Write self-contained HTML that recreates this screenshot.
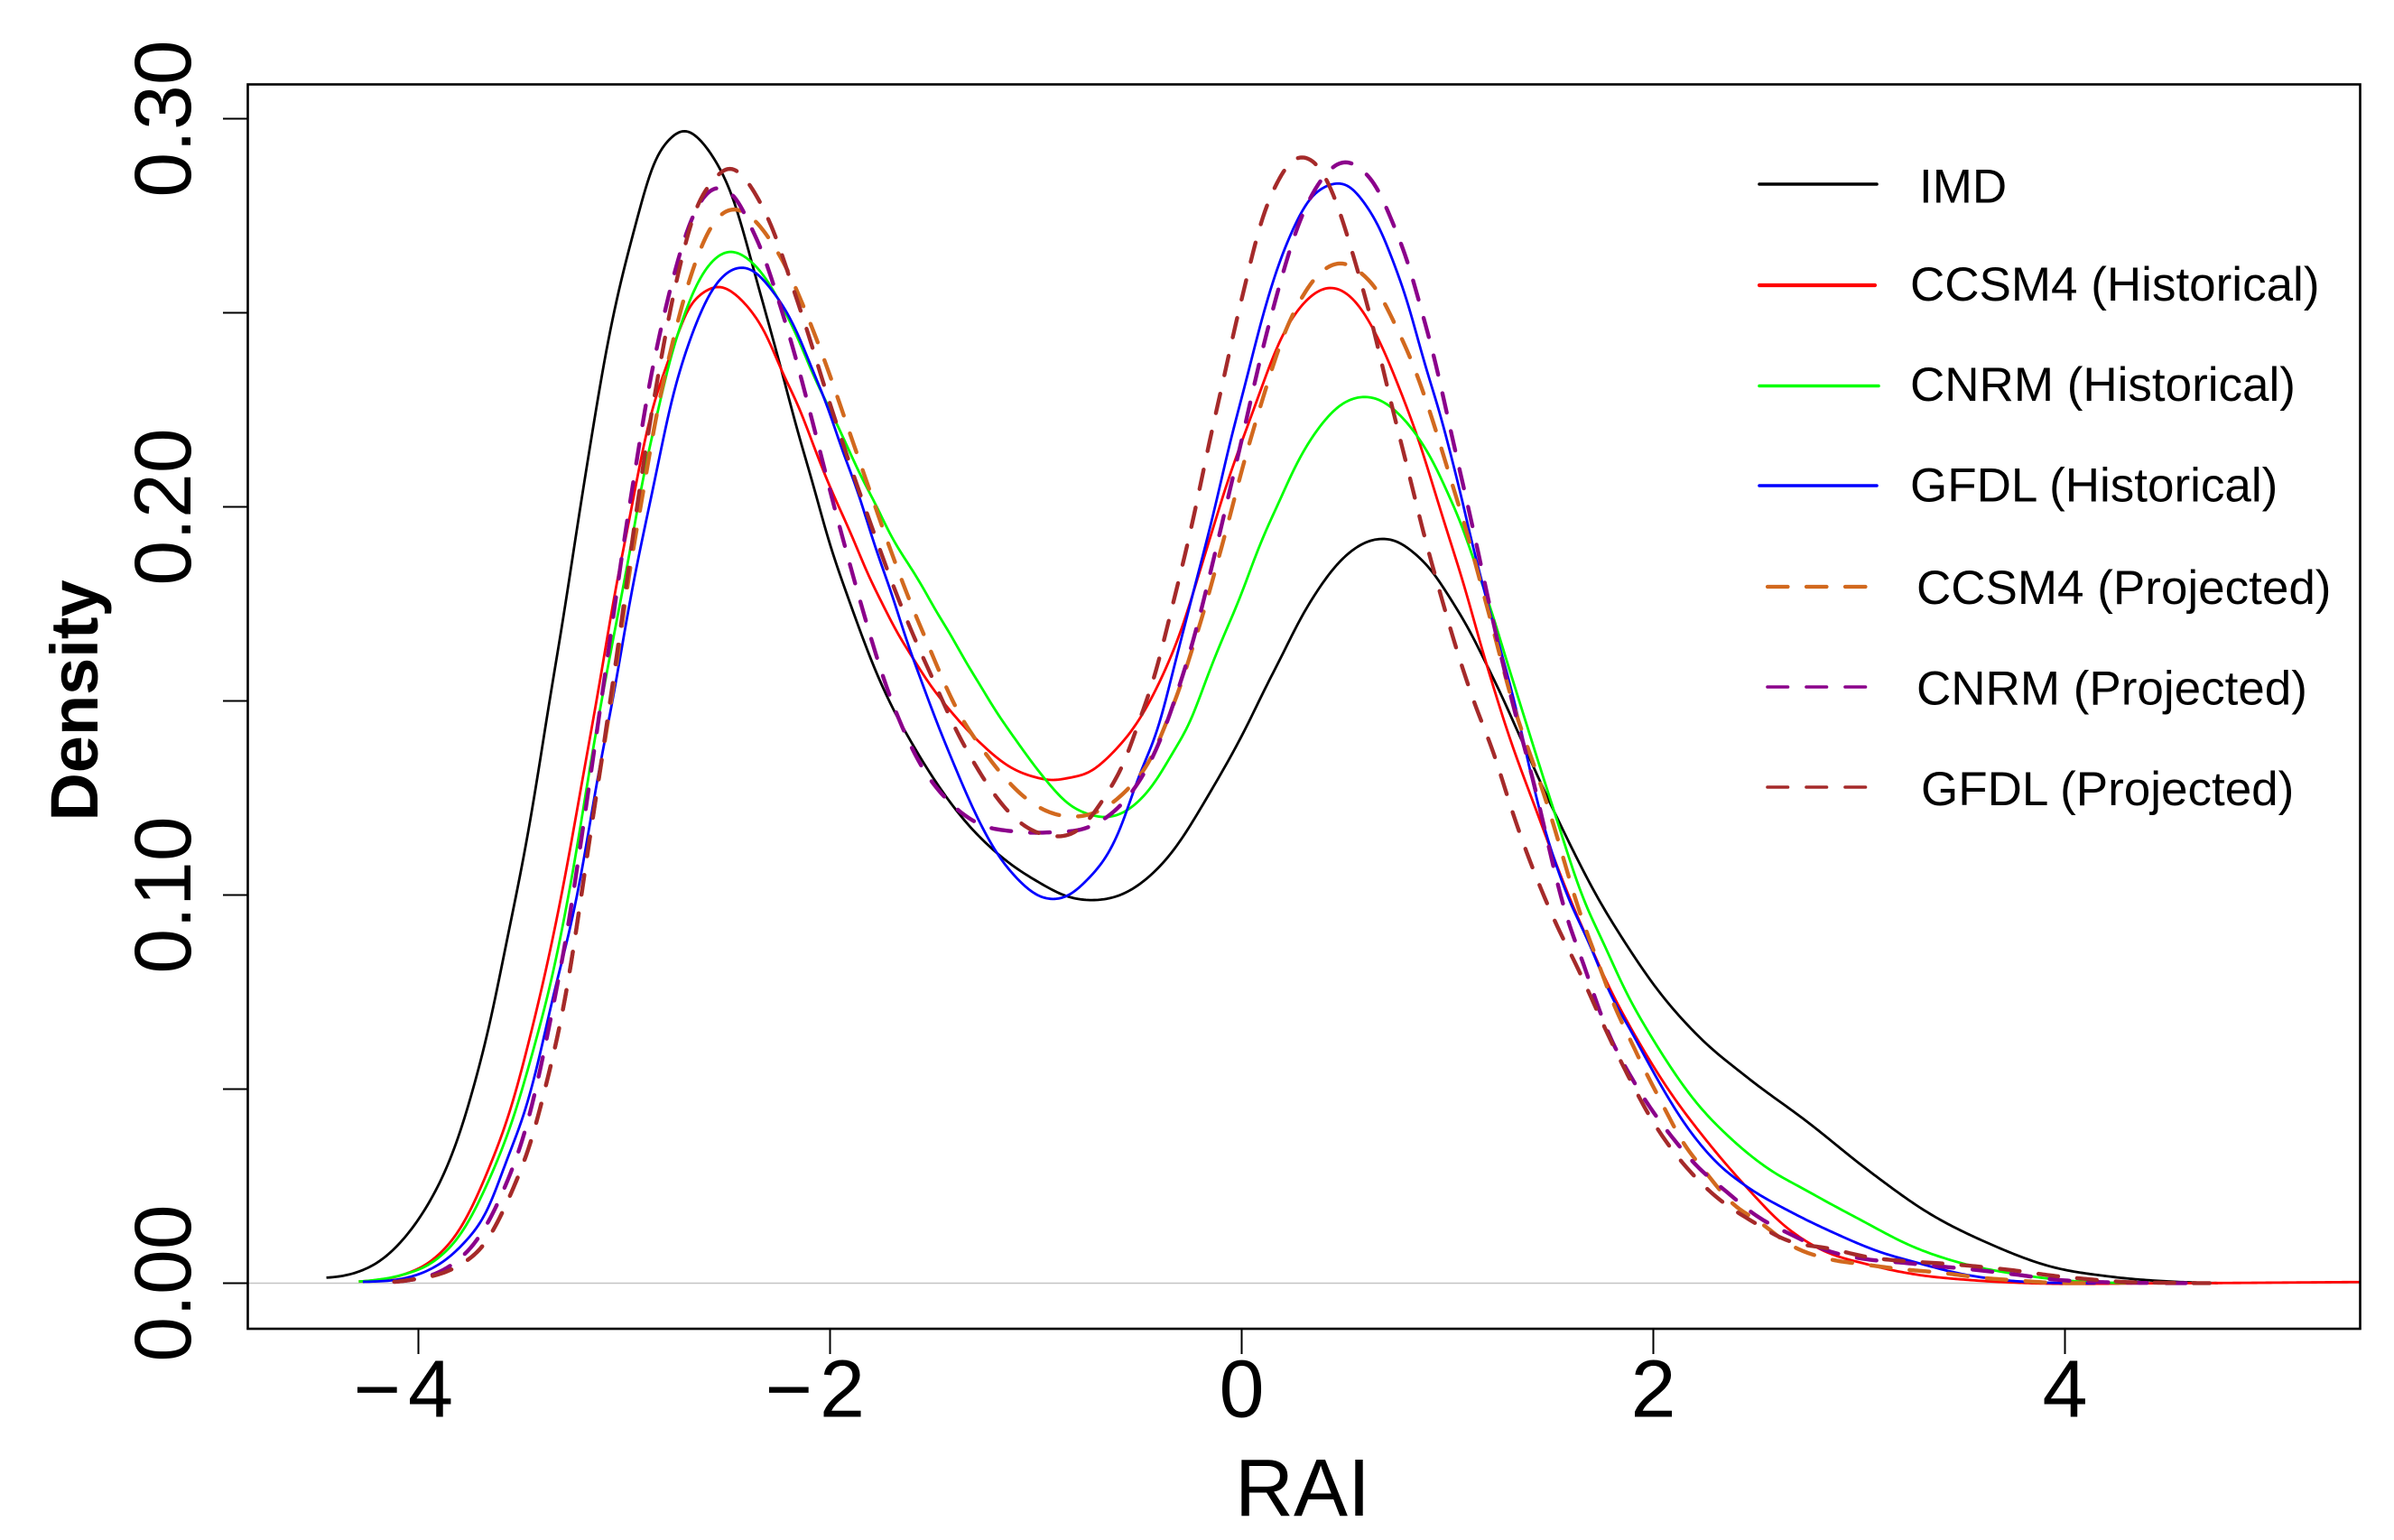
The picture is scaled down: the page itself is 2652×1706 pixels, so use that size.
<!DOCTYPE html>
<html lang="en">
<head>
<meta charset="utf-8">
<title>RAI density chart</title>
<style>
html,body{margin:0;padding:0;background:#fff;width:2652px;height:1706px;overflow:hidden}
svg{display:block}
text{font-family:"Liberation Sans",sans-serif;fill:#000}
</style>
</head>
<body>
<svg id="chart" xmlns="http://www.w3.org/2000/svg" width="2652" height="1706" viewBox="0 0 2652 1706">
  <rect x="0" y="0" width="2652" height="1706" fill="#fff"/>
  <defs><clipPath id="plot-clip"><rect x="275" y="94" width="2339" height="1378"/></clipPath></defs>
  <line x1="275" y1="1421.5" x2="2614" y2="1421.5" stroke="#c4c4c4" stroke-width="1.6"/>
  <g id="series"></g>
  <g id="axes"></g>
  <rect x="274.5" y="93.5" width="2340" height="1378.5" fill="none" stroke="#000" stroke-width="2.6"/>
  <text x="1443" y="1679" font-size="90" text-anchor="middle">RAI</text>
  <text transform="translate(108 776) rotate(-90)" font-size="74" font-weight="700" text-anchor="middle">Density</text>
  <g font-size="53">
    <g><line x1="1949" y1="204" x2="2079" y2="204" stroke="#000" stroke-width="3.6" stroke-linecap="round"/><text x="2126" y="224.5">IMD</text></g>
    <g><line x1="1949" y1="316" x2="2077" y2="316" stroke="#f00" stroke-width="4.2" stroke-linecap="round"/><text x="2116" y="333">CCSM4 (Historical)</text></g>
    <g><line x1="1949" y1="427.5" x2="2081" y2="427.5" stroke="#0f0" stroke-width="3.6" stroke-linecap="round"/><text x="2116" y="444">CNRM (Historical)</text></g>
    <g><line x1="1949" y1="538" x2="2079" y2="538" stroke="#00f" stroke-width="3.6" stroke-linecap="round"/><text x="2116" y="555.5">GFDL (Historical)</text></g>
    <g><line x1="1958" y1="650" x2="2067" y2="650" stroke="#D2691E" stroke-width="4.2" stroke-linecap="round" stroke-dasharray="22.5 20.5"/><text x="2123" y="669">CCSM4 (Projected)</text></g>
    <g><line x1="1958" y1="761" x2="2067" y2="761" stroke="#8B008B" stroke-width="3.6" stroke-linecap="round" stroke-dasharray="22.5 20.5"/><text x="2123" y="780.5">CNRM (Projected)</text></g>
    <g><line x1="1958" y1="872" x2="2067" y2="872" stroke="#A52A2A" stroke-width="3.6" stroke-linecap="round" stroke-dasharray="22.5 20.5"/><text x="2128" y="892">GFDL (Projected)</text></g>
  </g>
</svg>
<script>
const xTickValues = [-4, -2, 0, 2, 4];
const xTickLabels = ["\u22124", "\u22122", "0", "2", "4"];
const yTickValues = [0, 0.05, 0.10, 0.15, 0.20, 0.25, 0.30];
const yTickLabels = ["0.00", "", "0.10", "", "0.20", "", "0.30"];

const imdX = [-4.447,-4.3,-4.186,-4.076,-3.963,-3.879,-3.795,-3.725,-3.655,-3.57,-3.489,-3.423,-3.357,-3.299,-3.24,-3.167,-3.094,-3.021,-2.945,-2.86,-2.787,-2.708,-2.626,-2.553,-2.466,-2.378,-2.305,-2.232,-2.159,-2.086,-2.005,-1.925,-1.852,-1.778,-1.705,-1.603,-1.354,-1.164,-.989,-.844,-.734,-.55,-.361,-.142,.034,.107,.195,.283,.371,.458,.546,.634,.685,.736,.839,.926,1.014,1.102,1.19,1.262,1.321,1.52,1.744,1.866,2.015,2.222,2.457,2.75,3.046,3.34,3.636,3.93,4.22,4.52,4.75];
const imdY = [.0013,.0028,.0058,.0112,.0195,.0279,.0394,.052,.0665,.0885,.1097,.1298,.1523,.1701,.191,.2151,.2383,.2569,.2724,.288,.2941,.2969,.2941,.2887,.2787,.2624,.2485,.2345,.2197,.2066,.191,.1786,.1678,.1577,.1492,.1392,.1197,.1097,.1034,.0996,.0987,.101,.1096,.1275,.1445,.1525,.1616,.1709,.1786,.1848,.1891,.1914,.1917,.1914,.188,.1833,.1763,.1686,.1593,.1515,.1445,.1213,.098,.0875,.076,.0635,.053,.0415,.029,.018,.0101,.0043,.0017,.0004,0];

const ccsmHistX = [-4.29,-4.075,-3.935,-3.795,-3.655,-3.543,-3.458,-3.39,-3.305,-3.27,-3.211,-3.153,-3.094,-3.036,-2.995,-2.948,-2.89,-2.817,-2.758,-2.7,-2.626,-2.539,-2.45,-2.378,-2.305,-2.232,-2.159,-2.086,-2.012,-1.94,-1.881,-1.822,-1.749,-1.676,-1.603,-1.53,-1.442,-1.252,-1.135,-.989,-.916,-.844,-.74,-.625,-.507,-.375,-.287,-.214,-.141,-.068,.005,.064,.19,.33,.428,.554,.664,.777,.868,.941,1.014,1.087,1.16,1.218,1.277,1.435,1.603,1.69,1.778,1.927,2.073,2.25,2.457,2.633,2.81,3.045,3.28,3.515,3.78,4.5,5.43];
const ccsmHistY = [.0003,.0022,.0059,.0143,.03,.0465,.0635,.0785,.1,.1097,.1275,.1445,.1624,.181,.191,.2042,.2197,.2329,.2414,.25,.2546,.2567,.2542,.25,.2438,.2345,.2267,.2166,.2066,.198,.191,.1833,.1755,.1678,.1616,.1554,.1492,.1383,.1333,.1302,.1296,.1302,.1317,.1368,.1445,.1577,.1693,.1817,.1941,.2066,.2174,.2259,.2432,.2539,.2564,.2527,.2432,.229,.2159,.2034,.191,.1787,.1647,.1546,.1445,.1213,.098,.0875,.0771,.0624,.0499,.0373,.0245,.015,.0088,.0048,.0022,.0009,.0001,0,.0003];

const cnrmHistX = [-4.29,-4.075,-3.935,-3.795,-3.655,-3.543,-3.43,-3.348,-3.278,-3.237,-3.167,-3.102,-3.036,-2.963,-2.904,-2.846,-2.787,-2.714,-2.67,-2.597,-2.487,-2.392,-2.319,-2.232,-2.159,-2.086,-1.998,-1.925,-1.852,-1.778,-1.705,-1.633,-1.559,-1.486,-1.413,-1.34,-1.267,-1.216,-1.107,-.96,-.844,-.726,-.653,-.55,-.433,-.318,-.251,-.185,-.126,-.068,-.01,.049,.107,.181,.254,.327,.4,.473,.546,.604,.678,.736,.853,.941,1.014,1.072,1.131,1.204,1.262,1.335,1.52,1.668,1.75,1.868,2.015,2.19,2.397,2.545,2.75,2.986,3.28,3.487,3.78,4.075,4.37];
const cnrmHistY = [.0003,.0022,.0053,.0127,.0269,.042,.0625,.0795,.098,.1097,.1329,.1523,.1709,.191,.2089,.222,.236,.2484,.2546,.2616,.2657,.2635,.2593,.2515,.2438,.2345,.2248,.2166,.2081,.2007,.1926,.1864,.1802,.1732,.167,.16,.1538,.1492,.1407,.1302,.1236,.1206,.1201,.1221,.1283,.1383,.1445,.1538,.1618,.1692,.1763,.1848,.1926,.2011,.2097,.2166,.222,.2259,.2279,.2283,.2273,.2252,.2182,.2104,.2019,.1949,.1856,.1748,.1647,.1523,.1213,.098,.0886,.075,.0614,.0478,.0363,.03,.0237,.0169,.009,.0053,.0022,.0004,0];

const gfdlHistX = [-4.27,-4.075,-3.935,-3.795,-3.655,-3.57,-3.487,-3.417,-3.348,-3.25,-3.194,-3.124,-3.05,-2.992,-2.915,-2.846,-2.773,-2.714,-2.641,-2.568,-2.495,-2.429,-2.363,-2.29,-2.217,-2.144,-2.086,-2.012,-1.94,-1.866,-1.808,-1.749,-1.691,-1.633,-1.573,-1.515,-1.398,-1.296,-1.195,-1.091,-.989,-.916,-.844,-.74,-.653,-.581,-.506,-.397,-.331,-.273,-.214,-.156,-.097,-.054,-.01,.107,.18,.252,.327,.4,.466,.531,.603,.678,.735,.795,.853,.91,.955,1.014,1.072,1.116,1.16,1.204,1.262,1.321,1.45,1.597,1.69,1.778,1.897,2.015,2.162,2.31,2.457,2.663,2.868,3.104,3.28,3.487,3.722,3.93,4.15];
const gfdlHistY = [.0003,.0012,.0038,.0095,.02,.032,.0436,.0572,.0735,.0945,.1097,.1321,.1515,.1701,.191,.2081,.2267,.2376,.2484,.2562,.2604,.2616,.2604,.2562,.2507,.243,.2352,.2259,.2143,.2042,.1941,.1848,.1763,.1662,.1577,.1492,.1337,.1213,.1113,.1043,.0999,.099,.0999,.1046,.1104,.1183,.1299,.1445,.1585,.1701,.1825,.1941,.2073,.2174,.2259,.25,.2624,.2717,.279,.2822,.2833,.2822,.2776,.2709,.2631,.2546,.2438,.2329,.2259,.2135,.2019,.191,.1825,.1732,.1624,.1507,.1213,.098,.0875,.076,.0645,.053,.0404,.031,.0248,.0185,.0132,.008,.0053,.0025,.0007,.0001,0];

const ccsmProjX = [-4.117,-4.075,-3.879,-3.795,-3.66,-3.572,-3.502,-3.436,-3.39,-3.342,-3.305,-3.27,-3.241,-3.213,-3.14,-3.08,-3.02,-2.975,-2.933,-2.904,-2.875,-2.839,-2.799,-2.755,-2.707,-2.648,-2.568,-2.466,-2.379,-2.29,-2.195,-2.122,-2.052,-1.986,-1.925,-1.862,-1.8,-1.738,-1.673,-1.607,-1.534,-1.461,-1.37,-1.274,-1.157,-1.02,-.85,-.668,-.537,-.441,-.361,-.287,-.232,-.173,-.126,-.072,-.027,.024,.078,.137,.195,.268,.371,.415,.51,.581,.663,.751,.831,.897,.958,1.011,1.068,1.121,1.17,1.221,1.323,1.393,1.477,1.66,1.735,1.807,1.882,1.956,2.044,2.132,2.25,2.383,2.515,2.678,2.839,3.03,3.207,3.398,3.575,3.766,3.943,4.13];
const ccsmProjY = [.0002,.0006,.0027,.0048,.0116,.0206,.0294,.0394,.0494,.0593,.0687,.0781,.0886,.098,.1245,.1445,.1648,.1848,.1949,.2046,.2147,.2248,.2345,.2444,.2542,.2638,.2729,.2766,.2744,.2686,.2597,.2507,.2413,.2317,.2222,.2126,.2031,.1936,.1842,.175,.1659,.1566,.1465,.1387,.1306,.1238,.1203,.1224,.1283,.1352,.1453,.1554,.1651,.1748,.1845,.1943,.204,.2139,.2236,.2337,.243,.2515,.2597,.2616,.2625,.2601,.2554,.2462,.2369,.2271,.2173,.2077,.1982,.1883,.1785,.1687,.1483,.1376,.1246,.0928,.0823,.0718,.0635,.0551,.0462,.0373,.0289,.0206,.0158,.0095,.0064,.0048,.0036,.0027,.0015,.0007,.0001,0];

const cnrmProjX = [-4.117,-3.907,-3.837,-3.71,-3.62,-3.557,-3.492,-3.445,-3.403,-3.36,-3.325,-3.286,-3.264,-3.204,-3.178,-3.148,-3.124,-3.097,-3.068,-3.042,-3.018,-2.988,-2.958,-2.926,-2.901,-2.863,-2.824,-2.78,-2.731,-2.67,-2.598,-2.546,-2.502,-2.436,-2.402,-2.338,-2.278,-2.22,-2.166,-2.119,-2.071,-2.023,-1.976,-1.925,-1.876,-1.822,-1.768,-1.708,-1.64,-1.552,-1.435,-1.282,-1.107,-.916,-.74,-.581,-.471,-.39,-.327,-.268,-.214,-.17,-.124,-.08,-.036,.01,.05,.093,.14,.192,.246,.318,.415,.466,.553,.619,.678,.713,.751,.787,.817,.844,.866,.893,.919,.941,.963,.985,1.014,1.058,1.099,1.141,1.182,1.221,1.265,1.309,1.406,1.588,1.662,1.72,1.794,1.882,1.979,2.089,2.206,2.353,2.5,2.663,2.839,3.045,3.207,3.398,3.59,3.766,3.957,4.164,4.34,4.6];
const cnrmProjY = [.0002,.0027,.0048,.0116,.02,.0279,.0373,.0467,.0562,.0677,.0771,.0875,.0949,.116,.1259,.1359,.1457,.1558,.1657,.1755,.1855,.1957,.2056,.2155,.2253,.2352,.2453,.2552,.2649,.2744,.2806,.2822,.2813,.2779,.2736,.267,.2576,.248,.2383,.2288,.219,.209,.1992,.1895,.1798,.1701,.1604,.1511,.1422,.1329,.1248,.1185,.1164,.1162,.1176,.1236,.1317,.1407,.1501,.1598,.1697,.1793,.1893,.1992,.2093,.2192,.229,.2387,.2485,.2585,.2682,.2779,.286,.2883,.288,.2848,.2802,.2755,.2709,.2659,.2616,.2562,.2515,.2469,.2422,.2372,.2322,.2271,.2197,.2099,.2002,.1904,.1802,.1705,.1606,.1509,.1317,.0928,.0823,.0729,.063,.0541,.0457,.0378,.0305,.0237,.0174,.0127,.0085,.0061,.0053,.0043,.0033,.0022,.0009,.0003,.0001,0];

const gfdlProjX = [-4.117,-4.075,-3.879,-3.795,-3.66,-3.572,-3.502,-3.436,-3.39,-3.342,-3.305,-3.27,-3.241,-3.213,-3.168,-3.135,-3.106,-3.084,-3.055,-3.025,-2.999,-2.98,-2.952,-2.922,-2.897,-2.865,-2.831,-2.799,-2.762,-2.717,-2.67,-2.576,-2.495,-2.436,-2.402,-2.335,-2.254,-2.195,-2.134,-2.075,-2.02,-1.961,-1.903,-1.84,-1.776,-1.71,-1.64,-1.564,-1.486,-1.406,-1.318,-1.217,-1.099,-.932,-.8,-.653,-.559,-.492,-.433,-.385,-.341,-.292,-.248,-.207,-.17,-.131,-.082,-.046,0,.044,.093,.165,.246,.296,.34,.428,.488,.546,.597,.647,.691,.739,.783,.831,.875,.926,.977,1.029,1.087,1.148,1.226,1.281,1.544,1.632,1.713,1.794,1.882,1.965,2.065,2.177,2.309,2.485,2.647,2.868,3.045,3.22,3.398,3.575,3.752,3.93,4.12,4.296,4.487,4.71];
const gfdlProjY = [.0002,.0006,.0027,.0048,.0116,.0206,.0294,.0394,.0494,.0593,.0687,.0781,.0886,.098,.1155,.1254,.1355,.1453,.1552,.1651,.1752,.185,.1949,.2048,.2149,.2248,.2346,.2445,.2545,.2643,.2741,.2833,.2872,.2858,.2837,.2779,.2682,.2586,.2492,.2393,.2297,.2203,.2108,.2013,.1917,.1821,.1726,.1631,.154,.1445,.1357,.1271,.1197,.1153,.1166,.1264,.1357,.1461,.1545,.1641,.1738,.1839,.194,.2038,.2135,.2232,.2337,.2438,.2531,.2631,.2732,.2825,.2892,.2899,.2892,.2825,.2741,.2639,.2546,.2445,.2345,.224,.2147,.2048,.1949,.1851,.1755,.1659,.1563,.1469,.1365,.127,.0907,.0813,.0718,.0624,.053,.0446,.0363,.0289,.0221,.0158,.0111,.0088,.0067,.0057,.0051,.0043,.0033,.002,.001,.0003,.0001,0];

const svgNS = "http://www.w3.org/2000/svg";
const seriesGroup = document.getElementById("series");
const axesGroup = document.getElementById("axes");

function xScale(v) { return 1375.5 + 228 * v; }
function yScale(v) { return 1421.5 - 4300 * v; }

function denseCurve(xs, ys, step) {
  const n = xs.length;
  const m = new Array(n);
  for (let i = 0; i < n; i++) {
    if (i === 0) m[i] = (ys[1] - ys[0]) / (xs[1] - xs[0]);
    else if (i === n - 1) m[i] = (ys[n - 1] - ys[n - 2]) / (xs[n - 1] - xs[n - 2]);
    else {
      const h0 = xs[i] - xs[i - 1], h1 = xs[i + 1] - xs[i];
      const d0 = (ys[i] - ys[i - 1]) / h0, d1 = (ys[i + 1] - ys[i]) / h1;
      m[i] = (d0 * h1 + d1 * h0) / (h0 + h1);
    }
  }
  const gx = [], gy = [];
  let seg = 0;
  for (let x = xs[0]; x <= xs[n - 1] + 1e-9; x += step) {
    while (seg < n - 2 && x > xs[seg + 1]) seg++;
    const h = xs[seg + 1] - xs[seg], t = (x - xs[seg]) / h;
    const t2 = t * t, t3 = t2 * t;
    gx.push(x);
    gy.push((2 * t3 - 3 * t2 + 1) * ys[seg] + (t3 - 2 * t2 + t) * h * m[seg] +
            (-2 * t3 + 3 * t2) * ys[seg + 1] + (t3 - t2) * h * m[seg + 1]);
  }
  return [gx, gy];
}

function gaussSmooth(vals, sigmaSteps) {
  const r = Math.ceil(sigmaSteps * 3);
  const out = new Array(vals.length);
  for (let i = 0; i < vals.length; i++) {
    let s = 0, w = 0;
    for (let k = -r; k <= r; k++) {
      const j = i + k;
      if (j < 0 || j >= vals.length) continue;
      const g = Math.exp(-k * k / (2 * sigmaSteps * sigmaSteps));
      s += g * vals[j];
      w += g;
    }
    out[i] = s / w;
  }
  return out;
}

function smoothPath(xs, ys) {
  const step = 0.01;
  const dense = denseCurve(xs, ys, step);
  const sig = 0.04 / step;
  const a = gaussSmooth(dense[1], sig);
  const b = gaussSmooth(dense[1], sig * Math.SQRT2);
  let d = "";
  for (let i = 0; i < dense[0].length; i++) {
    const v = 2 * a[i] - b[i];
    d += (i ? "L" : "M") + xScale(dense[0][i]).toFixed(2) + " " + yScale(v).toFixed(2);
  }
  return d;
}

function drawSeries(name, xs, ys, color, width, dashed) {
  const p = document.createElementNS(svgNS, "path");
  p.setAttribute("d", smoothPath(xs, ys));
  p.setAttribute("fill", "none");
  p.setAttribute("stroke", color);
  p.setAttribute("stroke-width", width);
  p.setAttribute("clip-path", "url(#plot-clip)");
  p.setAttribute("stroke-linejoin", "round");
  if (dashed) {
    p.setAttribute("stroke-dasharray", "22 21");
    p.setAttribute("stroke-linecap", "round");
  }
  
  
  seriesGroup.appendChild(p);
}

drawSeries("series-imd", imdX, imdY, "#000000", 2.8, false);
drawSeries("series-ccsm4-historical", ccsmHistX, ccsmHistY, "#ff0000", 2.8, false);
drawSeries("series-cnrm-historical", cnrmHistX, cnrmHistY, "#00ff00", 2.8, false);
drawSeries("series-gfdl-historical", gfdlHistX, gfdlHistY, "#0000ff", 2.8, false);
drawSeries("series-ccsm4-projected", ccsmProjX, ccsmProjY, "#D2691E", 4.4, true);
drawSeries("series-cnrm-projected", cnrmProjX, cnrmProjY, "#8B008B", 4.4, true);
drawSeries("series-gfdl-projected", gfdlProjX, gfdlProjY, "#A52A2A", 4.4, true);

xTickValues.forEach(function (v, i) {
  const t = document.createElementNS(svgNS, "line");
  t.setAttribute("x1", xScale(v));
  t.setAttribute("x2", xScale(v));
  t.setAttribute("y1", 1472);
  t.setAttribute("y2", 1500);
  t.setAttribute("stroke", "#000");
  t.setAttribute("stroke-width", 2);
  
  
  axesGroup.appendChild(t);
  const l = document.createElementNS(svgNS, "text");
  if (v < 0) {
    l.setAttribute("x", xScale(v) - 72);
    l.setAttribute("text-anchor", "start");
    l.setAttribute("letter-spacing", 8);
  } else {
    l.setAttribute("x", xScale(v));
    l.setAttribute("text-anchor", "middle");
  }
  l.setAttribute("y", 1569.5);
  l.setAttribute("font-size", 90);
  l.textContent = xTickLabels[i];
  
  
  axesGroup.appendChild(l);
});

yTickValues.forEach(function (v, i) {
  const t = document.createElementNS(svgNS, "line");
  t.setAttribute("x1", 247);
  t.setAttribute("x2", 274);
  t.setAttribute("y1", yScale(v));
  t.setAttribute("y2", yScale(v));
  t.setAttribute("stroke", "#000");
  t.setAttribute("stroke-width", 2);
  
  
  axesGroup.appendChild(t);
  if (yTickLabels[i]) {
    const l = document.createElementNS(svgNS, "text");
    l.setAttribute("transform", "translate(211 " + yScale(v) + ") rotate(-90)");
    l.setAttribute("font-size", 89.5);
    l.setAttribute("text-anchor", "middle");
    l.textContent = yTickLabels[i];
    
    
    axesGroup.appendChild(l);
  }
});
</script>
</body>
</html>
